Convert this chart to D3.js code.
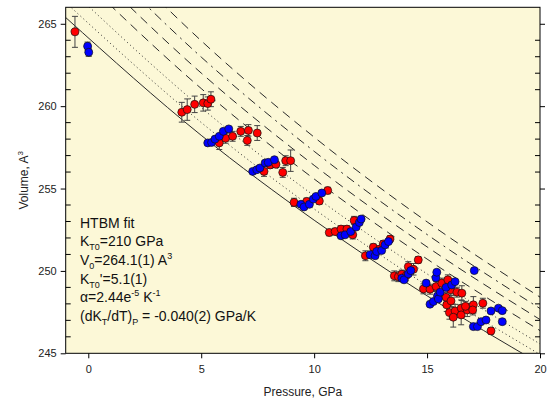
<!DOCTYPE html>
<html>
<head>
<meta charset="utf-8">
<script src="https://cdn.jsdelivr.net/npm/d3@7.9.0/dist/d3.min.js"></script>
<style>
  body { margin: 0; background: #fff; }
  svg { display: block; font-family: Arial, "Liberation Sans", sans-serif; }
</style>
</head>
<body>
<script>
// red data set: pressure (GPa), volume (A^3), error
const redP = [-0.59, 4.14, 4.38, 4.71, 5.09, 5.29, 5.43, 5.80, 6.08, 6.39, 6.75, 7.09, 7.04, 7.48,
  7.78, 8.05, 8.31, 8.61, 8.74, 8.96, 9.11, 9.67, 10.23, 10.6, 10.67, 10.93, 11.19, 11.45, 11.71, 11.77,
  12.27, 12.62, 12.89, 13.06, 13.36, 13.55, 13.73, 13.88, 14.07, 14.17, 14.4, 14.61, 14.84, 15.13,
  15.4, 15.65, 15.87, 15.92, 16.05, 16.32, 15.84, 16.06, 16.54, 15.99, 16.24, 16.16, 16.51, 16.51,
  16.78, 17.05, 17.02, 16.7, 17.47, 17.83]
const redV = [264.51, 259.63, 259.79, 260.11, 260.2, 260.16, 260.42, 257.77, 258.05, 258.17, 258.47, 258.53, 257.92, 258.37,
  256.04, 256.43, 256.47, 255.98, 256.69, 256.69, 254.16, 254.22, 254.24, 254.88, 252.33, 252.39, 252.54, 252.54, 252.19, 253.06,
  250.92, 251.44, 251.32, 251.64, 251.93, 249.7, 249.65, 249.8, 249.7, 250.26, 250.1, 250.67, 248.91, 248.89,
  249.05, 249.26, 247.94, 249.46, 248.85, 248.71, 248.4, 248.18, 248.65, 247.47, 247.57, 247.19, 247.74, 247.33,
  247.63, 247.94, 247.63, 247.85, 248.04, 246.36]
const redErr = [0.94, 0.6, 0.65, 0.5, 0.5, 0.4, 0.45, 0.4, 0.3, 0.3, 0.3, 0.35, 0.3, 0.45,
  0.3, 0.2, 0.2, 0.3, 0.3, 0.65, 0.25, 0.2, 0.2, 0.2, 0.2, 0.2, 0.2, 0.2, 0.25, 0.25,
  0.3, 0.2, 0.2, 0.2, 0.2, 0.3, 0.3, 0.25, 0.3, 0.3, 0.35, 0.2, 0.3, 0.3,
  0.3, 0.3, 0.4, 0.3, 0.35, 0.3, 0.3, 0.35, 0.45, 0.4, 0.4, 0.6, 0.5, 0.6,
  0.4, 0.5, 0.3, 0.3, 0.3, 0.2]

// blue data set
const blueP = [-0.03, 0.02, 5.29, 5.46, 5.61, 5.80, 5.98, 6.22, 7.28, 7.46, 7.6, 7.83, 7.97, 8.24,
  9.41, 9.55, 9.79, 9.96, 10.08, 10.34, 11.19, 11.37, 11.62, 11.86, 12.0, 12.08, 12.48, 12.7, 12.77,
  12.99, 13.14, 13.29, 13.88, 13.98, 14.17, 14.28, 14.96, 15.13, 15.28, 15.39, 15.43, 15.46, 15.5,
  15.58, 15.84, 16.09, 16.24, 17.09, 17.05, 17.23, 17.39, 17.61, 17.83, 18.16, 18.33, 18.33]
const blueV = [263.64, 263.27, 257.77, 257.8, 258.0, 258.17, 258.47, 258.62, 256.04, 256.14, 256.25, 256.55, 256.59, 256.75,
  254.04, 253.88, 254.04, 254.36, 254.52, 254.73, 252.13, 252.19, 252.39, 252.66, 252.94, 253.15, 250.98, 250.92, 251.18,
  251.24, 251.58, 251.78, 249.56, 249.46, 249.82, 250.02, 249.26, 247.98, 248.14, 249.58, 249.92, 248.48, 248.3,
  248.71, 249.0, 249.15, 249.35, 250.02, 246.62, 246.62, 246.92, 247.02, 247.57, 247.74, 247.59, 246.92]
const blueErr = [0.25, 0.25]

// fitted isotherms, volume at these pressures
const fitP = [-1, 5, 10, 15, 20]
const fitSolid = [265.38, 258.23, 253.08, 248.49, 244.37]
const fitDot1 = [266.29, 259.01, 253.76, 249.11, 244.93]
const fitDot2 = [267.36, 259.91, 254.56, 249.82, 245.57]
const fitDash1 = [268.74, 261.07, 255.58, 250.72, 246.38]
const fitDash2 = [269.87, 262.01, 256.41, 251.46, 247.05]
const fitDash3 = [271.04, 262.98, 257.26, 252.21, 247.72]
const fitDash4 = [272.23, 263.97, 258.12, 252.98, 248.41]

const xTicks = [0, 5, 10, 15, 20]
const yTicks = [245, 250, 255, 260, 265]

const width = 549, height = 402
const x = d3.scaleLinear([-1, 20], [65.7, 540])
const y = d3.scaleLinear([245, 266], [353.3, 7.3])

const svg = d3.select("body").append("svg")
    .attr("width", width)
    .attr("height", height)

svg.append("defs").append("clipPath").attr("id", "plot")
  .append("rect")
    .attr("x", x(-1)).attr("y", y(266))
    .attr("width", x(20) - x(-1)).attr("height", y(245) - y(266))

svg.append("rect")
    .attr("x", x(-1)).attr("y", y(266))
    .attr("width", x(20) - x(-1)).attr("height", y(245) - y(266))
    .attr("fill", "#fcf8d7")

// fit lines
const line = d3.line()
    .curve(d3.curveMonotoneX)
    .x((d, i) => x(fitP[i]))
    .y(d => y(d))

const fits = [
  [fitSolid, null],
  [fitDot1, "1,3"],
  [fitDot2, "1,3"],
  [fitDash1, "9,6"],
  [fitDash2, "9,6"],
  [fitDash3, "9,5,2,5"],
  [fitDash4, "9,6"]
]
const gFit = svg.append("g").attr("clip-path", "url(#plot)")
fits.forEach(([vals, dash]) => {
  gFit.append("path")
      .attr("d", line(vals))
      .attr("fill", "none")
      .attr("stroke", "#2a2a2a")
      .attr("stroke-width", 1)
      .attr("stroke-dasharray", dash)
})

function drawSet(P, V, E, color) {
  const g = svg.append("g")
  P.forEach((p, i) => {
    const e = E[i] || 0
    if (e > 0) {
      g.append("path")
          .attr("d", `M${x(p)},${y(V[i] - e)}V${y(V[i] + e)}M${x(p) - 3},${y(V[i] - e)}h6M${x(p) - 3},${y(V[i] + e)}h6`)
          .attr("stroke", "#444")
          .attr("stroke-width", 1)
          .attr("fill", "none")
    }
  })
  g.selectAll("circle")
    .data(P)
    .join("circle")
      .attr("cx", d => x(d))
      .attr("cy", (d, i) => y(V[i]))
      .attr("r", 4)
      .attr("fill", color)
      .attr("stroke", "#111")
      .attr("stroke-width", 0.7)
}
drawSet(redP, redV, redErr, "#ff0000")
drawSet(blueP, blueV, blueErr, "#0000ff")

// frame
svg.append("rect")
    .attr("x", x(-1)).attr("y", y(266))
    .attr("width", x(20) - x(-1)).attr("height", y(245) - y(266))
    .attr("fill", "none")
    .attr("stroke", "#000")
    .attr("stroke-width", 1)

// axes
svg.append("g")
    .attr("transform", `translate(0,${y(245)})`)
    .call(d3.axisBottom(x).tickValues(xTicks).tickSize(5).tickPadding(7).tickFormat(d3.format("d")))
    .call(g => g.select(".domain").remove())
    .call(g => g.selectAll("text").attr("font-size", 11).attr("fill", "#222").attr("font-family", "Arial, 'Liberation Sans', sans-serif"))

svg.append("g")
    .attr("transform", `translate(${x(-1)},0)`)
    .call(d3.axisLeft(y).tickValues(yTicks).tickSize(5).tickPadding(4).tickFormat(d3.format("d")))
    .call(g => g.select(".domain").remove())
    .call(g => g.selectAll("text").attr("font-size", 11).attr("fill", "#222").attr("font-family", "Arial, 'Liberation Sans', sans-serif"))

svg.append("g")
    .attr("transform", `translate(${x(20)},0)`)
    .call(d3.axisRight(y).tickValues(yTicks).tickSize(5).tickFormat(""))
    .call(g => g.select(".domain").remove())

// minor ticks inside, left and right
const minor = d3.range(246, 266).filter(v => v % 5 !== 0)
svg.append("g").selectAll("line")
  .data(minor)
  .join("line")
    .attr("x1", x(-1)).attr("x2", x(-1) + 5)
    .attr("y1", d => y(d)).attr("y2", d => y(d))
    .attr("stroke", "#000")
svg.append("g").selectAll("line")
  .data(minor)
  .join("line")
    .attr("x1", x(20)).attr("x2", x(20) - 5)
    .attr("y1", d => y(d)).attr("y2", d => y(d))
    .attr("stroke", "#000")

// axis titles
svg.append("text")
    .attr("x", (x(-1) + x(20)) / 2)
    .attr("y", 396)
    .attr("text-anchor", "middle")
    .attr("font-size", 12)
    .attr("fill", "#222")
    .text("Pressure, GPa")

const yl = svg.append("text")
    .attr("transform", `translate(28,${(y(245) + y(266)) / 2}) rotate(-90)`)
    .attr("text-anchor", "middle")
    .attr("font-size", 12)
    .attr("fill", "#222")
yl.append("tspan").text("Volume, A")
yl.append("tspan").attr("dy", -5).attr("font-size", 8).text("3")

// fit parameters
const notes = svg.append("g").attr("font-size", 14).attr("fill", "#111")
function note(yy, parts) {
  const t = notes.append("text").attr("x", 80).attr("y", yy)
  let shift = 0
  parts.forEach(([s, kind]) => {
    const dy = kind === "sub" ? 4 : kind === "sup" ? -6 : 0
    t.append("tspan")
        .attr("dy", dy - shift)
        .attr("font-size", kind ? 9 : 14)
        .text(s)
    shift = dy
  })
}
note(228, [["HTBM fit"]])
note(246, [["K"], ["T0", "sub"], ["=210 GPa"]])
note(265, [["V"], ["0", "sub"], ["=264.1(1) A"], ["3", "sup"]])
note(284, [["K"], ["T0", "sub"], ["'=5.1(1)"]])
note(302, [["\u03b1=2.44e"], ["-5", "sup"], [" K"], ["-1", "sup"]])
note(321, [["(dK"], ["T", "sub"], ["/dT)"], ["P", "sub"], [" = -0.040(2) GPa/K"]])
</script>
</body>
</html>
